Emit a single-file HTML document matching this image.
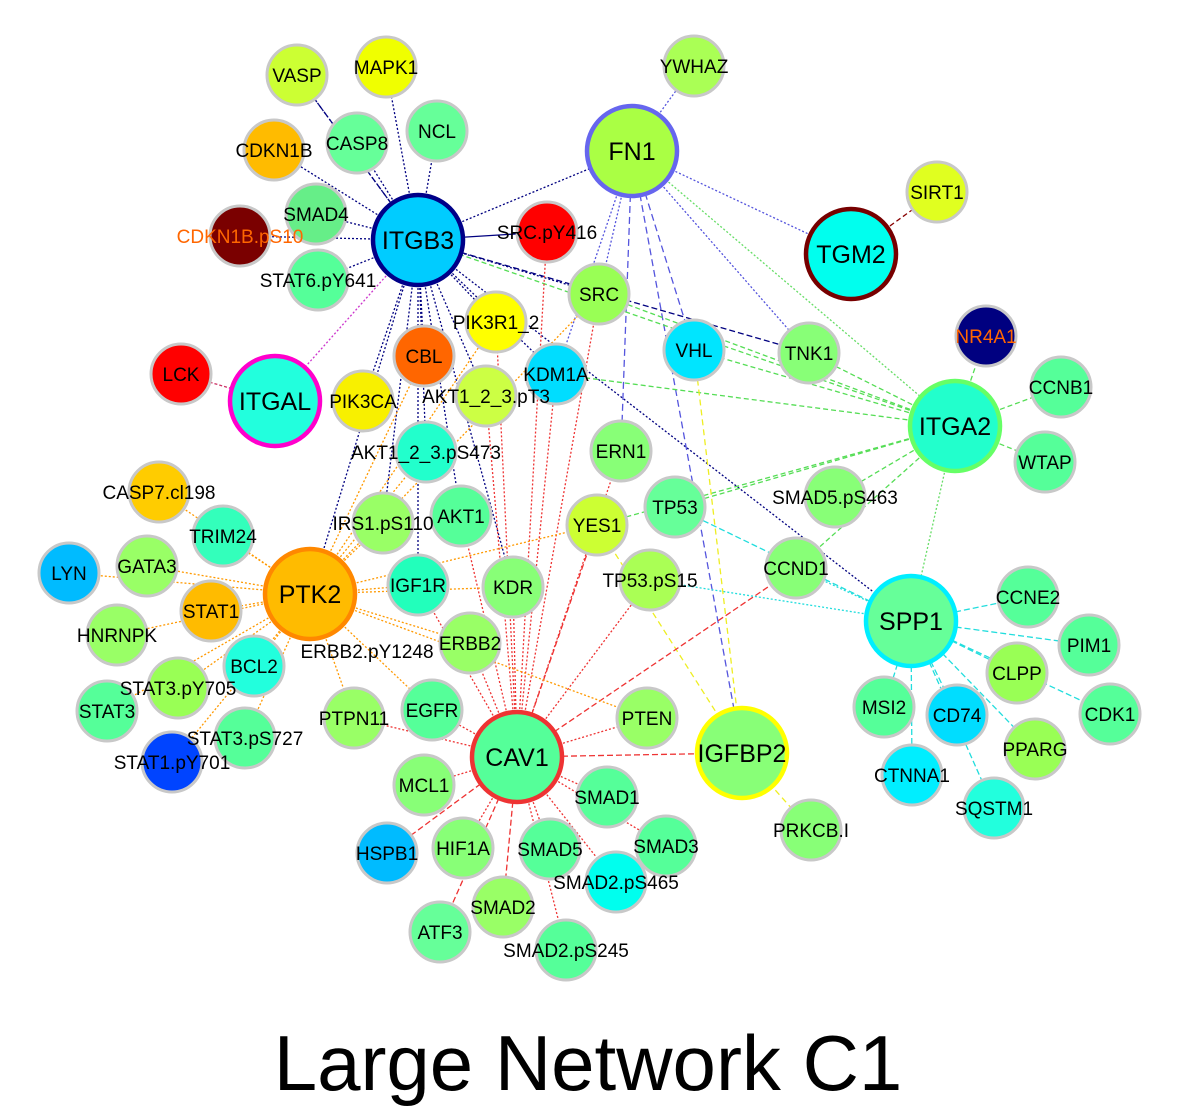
<!DOCTYPE html>
<html><head><meta charset="utf-8"><style>
html,body{margin:0;padding:0;background:#fff;}
svg{display:block;}
text{font-family:"Liberation Sans",Arial,sans-serif;}
</style></head><body>
<svg width="1177" height="1119" viewBox="0 0 1177 1119" xmlns="http://www.w3.org/2000/svg">
<g id="edges" fill="none" stroke-width="1.3"></g>
<g id="nodes"></g>
<g id="labels" font-size="19" text-anchor="middle" fill="#000"></g>
<text x="588" y="1090" font-size="78" text-anchor="middle">Large Network C1</text>
<script>
const N={
VASP:[297,75,'#ccff33'],MAPK1:[386,67,'#f0ff00'],YWHAZ:[694,66,'#aaff55'],CDKN1B:[274,150,'#ffbb00'],
CASP8:[357,143,'#66ff99'],NCL:[437,131,'#66ff99'],SIRT1:[937,192,'#e0ff20'],SMAD4:[316,214,'#66ee88'],
'CDKN1B.pS10':[240,236,'#7a0000'],'SRC.pY416':[547,232,'#ff0000'],'STAT6.pY641':[318,280,'#55ff99'],
SRC:[599,294,'#99ff55'],PIK3R1_2:[496,322,'#ffff00'],NR4A1:[986,336,'#000080'],VHL:[694,350,'#00e5ff'],
TNK1:[809,353,'#88ff77'],CCNB1:[1061,387,'#55ff99'],LCK:[181,374,'#ff0000'],CBL:[424,356,'#ff6600'],
PIK3CA:[363,401,'#f8f000'],'AKT1_2_3.pT3':[486,396,'#ccff44'],KDM1A:[556,374,'#00ddff'],WTAP:[1045,462,'#55ff99'],
'AKT1_2_3.pS473':[426,452,'#22ffcc'],ERN1:[621,451,'#88ff77'],'SMAD5.pS463':[835,497,'#88ff77'],
'CASP7.cl198':[159,492,'#ffcc00'],TP53:[675,507,'#66ff99'],TRIM24:[223,536,'#33ffbb'],'IRS1.pS110':[383,523,'#99ff66'],
AKT1:[461,516,'#55ff99'],YES1:[597,525,'#ccff33'],LYN:[69,573,'#00bbff'],GATA3:[147,566,'#99ff66'],
IGF1R:[418,585,'#22ffbb'],KDR:[513,587,'#88ff77'],'TP53.pS15':[650,580,'#aaff55'],CCND1:[796,568,'#88ff77'],
CCNE2:[1028,597,'#55ff99'],STAT1:[211,611,'#ffbb00'],HNRNPK:[117,635,'#99ff66'],PIM1:[1089,645,'#55ff99'],
BCL2:[254,666,'#22ffdd'],ERBB2:[470,643,'#99ff66'],'STAT3.pY705':[178,688,'#99ff55'],STAT3:[107,711,'#55ff99'],
CLPP:[1017,673,'#99ff55'],CDK1:[1110,714,'#55ff99'],PTPN11:[354,718,'#99ff66'],EGFR:[432,710,'#55ff99'],
PTEN:[647,718,'#99ff66'],MSI2:[884,707,'#55ff99'],CD74:[957,715,'#00ddff'],PPARG:[1035,749,'#99ff55'],
'STAT3.pS727':[245,738,'#55ff99'],'STAT1.pY701':[172,762,'#0044ff'],MCL1:[424,785,'#88ff77'],SMAD1:[607,797,'#55ff99'],
CTNNA1:[912,775,'#00eeff'],SQSTM1:[994,808,'#22ffdd'],'PRKCB.I':[811,830,'#88ff77'],HSPB1:[387,853,'#00bbff'],
HIF1A:[463,848,'#88ff77'],SMAD5:[550,849,'#55ff99'],SMAD3:[666,846,'#55ff99'],'SMAD2.pS465':[616,882,'#00ffee'],
SMAD2:[503,907,'#99ff66'],ATF3:[440,932,'#66ff99'],'SMAD2.pS245':[566,950,'#55ff99'],'ERBB2.pY1248':[367,651,null]
};
const B={
FN1:[632,151,'#aaff44','#6666ee'],ITGB3:[418,240,'#00ccff','#000088'],TGM2:[851,254,'#00ffee','#770000'],
ITGAL:[275,401,'#22ffdd','#ff00cc'],ITGA2:[955,426,'#22ffcc','#66ff66'],PTK2:[310,594,'#ffbb00','#ff8800'],
SPP1:[911,621,'#66ff99','#00eeff'],IGFBP2:[742,753,'#88ff77','#ffff00'],CAV1:[517,757,'#55ff99','#ee3333']
};
function P(k){return N[k]||B[k];}
const E=[
['ITGB3','#000080','2,2',['VASP','MAPK1','CASP8','NCL','CDKN1B','SMAD4','CDKN1B.pS10','STAT6.pY641','SRC','PIK3R1_2','CBL','PIK3CA','AKT1_2_3.pT3','KDM1A','AKT1_2_3.pS473','IRS1.pS110','AKT1','IGF1R','KDR','PTK2','SPP1','FN1']],
['ITGB3','#000080','6,3',['TNK1','VASP']],['ITGB3','#000080',null,['SRC.pY416']],
['ITGB3','#cc33cc','2,2',['ITGAL']],['ITGAL','#cc3366','3,2',['LCK']],['TGM2','#880000','5,3',['SIRT1']],
['FN1','#5555dd','2,2',['YWHAZ','TGM2','SRC','KDM1A','TNK1']],['FN1','#5555dd','7,4',['VHL','IGFBP2','ERN1']],['FN1','#66dd66','2,2',['ITGA2']],
['ITGA2','#55dd55','5,3',['NR4A1','CCNB1','WTAP','TNK1','VHL','SRC','KDM1A','TP53','YES1','CCND1','SMAD5.pS463','ITGB3']],['ITGA2','#66dd66','2,2',['SPP1']],
['SPP1','#22dddd','6,3',['CCNE2','PIM1','CLPP','CDK1','PPARG','SQSTM1','CTNNA1','CD74','MSI2','TP53']],['SPP1','#22dddd','2,2',['TP53.pS15','CCND1']],
['IGFBP2','#eeee22','6,4',['PRKCB.I','VHL','YES1']],
['CAV1','#ee3333','2,2',['KDR','IGF1R','AKT1','ERBB2','EGFR','PTPN11','MCL1','HIF1A','SMAD5','SMAD2.pS245','SMAD2.pS465','SMAD1','SMAD3','PTEN','TP53.pS15','ERN1','SRC','PIK3R1_2','AKT1_2_3.pT3','KDM1A','SRC.pY416']],
['CAV1','#ee3333','6,3',['HSPB1','ATF3','SMAD2','IGFBP2','CCND1','YES1']],
['PTK2','#ff9900','2,2',['CASP7.cl198','TRIM24','LYN','GATA3','STAT1','HNRNPK','STAT3.pY705','BCL2','STAT3','STAT3.pS727','STAT1.pY701','PTPN11','ERBB2','IGF1R','KDR','YES1','IRS1.pS110','AKT1_2_3.pS473','CBL','PIK3R1_2','SRC','PTEN','EGFR']]
];
const ns='http://www.w3.org/2000/svg';
const ge=document.getElementById('edges'),gn=document.getElementById('nodes'),gl=document.getElementById('labels');
function el(t,a,p){const e=document.createElementNS(ns,t);for(const k in a)e.setAttribute(k,a[k]);p.appendChild(e);return e;}
E.forEach(([s,c,d,ts])=>{const a=P(s);ts.forEach(t=>{const b=P(t);const at={x1:a[0],y1:a[1],x2:b[0],y2:b[1],stroke:c};if(d)at['stroke-dasharray']=d;el('line',at,ge);});});
for(const k in N){const n=N[k];if(!n[2])continue;el('circle',{cx:n[0],cy:n[1],r:30,fill:n[2],stroke:'#c8c8c8','stroke-width':3},gn);}
for(const k in B){const n=B[k];el('circle',{cx:n[0],cy:n[1],r:45,fill:n[2],stroke:n[3],'stroke-width':4.5},gn);}
const lab={'CDKN1B.pS10':'#ff6600',NR4A1:'#ff6600'};
const off={'SRC.pY416':[0,0],'STAT3.pY705':[-5,0],'STAT1.pY701':[0,0]};
for(const k in N){const n=N[k];const t=el('text',{x:n[0],y:n[1]+7,fill:lab[k]||'#000'},gl);t.textContent=k;}
for(const k in B){const n=B[k];const t=el('text',{x:n[0],y:n[1]+9,'font-size':25},gl);t.textContent=k;}
</script>
</svg>
</body></html>
